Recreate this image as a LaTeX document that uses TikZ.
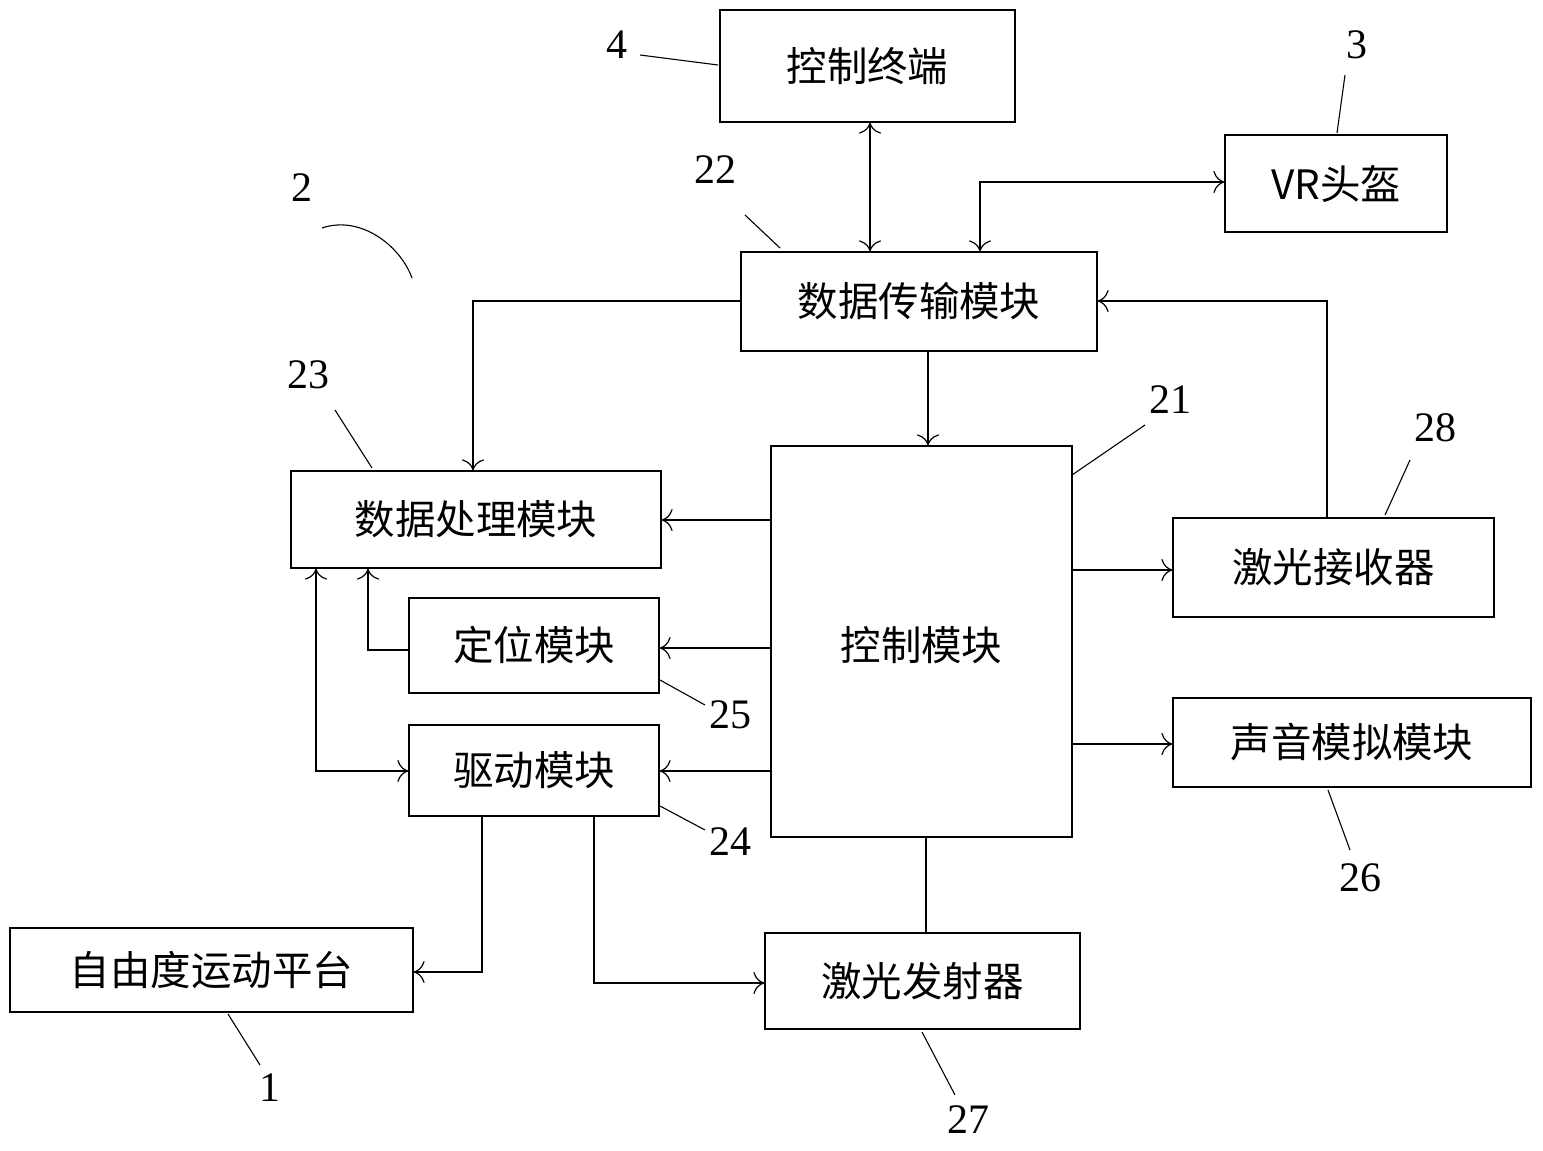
\documentclass[tikz,border=0pt]{standalone}
\usepackage{fontspec}
\setmainfont{Liberation Serif}
\newfontfamily\cjk{Noto Sans CJK SC}[Scale=0.92]
\usetikzlibrary{arrows.meta}
\begin{document}
\begin{tikzpicture}[x=1pt,y=-1pt,
  box/.style={draw,line width=1.2pt,inner sep=0pt,font=\cjk\fontsize{44}{48}\selectfont},
  num/.style={font=\fontsize{42}{46}\selectfont,inner sep=0pt},
  lab/.style={line width=1.1pt},
  con/.style={line width=1.2pt},
  ar/.style={con,-{To[length=11pt,width=22pt,line width=1.2pt]}},
  dar/.style={con,{To[length=11pt,width=22pt,line width=1.2pt]}-{To[length=11pt,width=22pt,line width=1.2pt]}}]
\useasboundingbox (0,0) rectangle (1543,1151);
\newcommand{\bx}[6]{\node[box,minimum width=#4-#2,minimum height=#5-#3] (#1) at ({(#2+#4)/2},{(#3+#5)/2}) {#6};}
\bx{term}{720}{10}{1015}{122}{控制终端}
\bx{vr}{1225}{135}{1447}{232}{VR\cjk 头盔}
\bx{dt}{741}{252}{1097}{351}{数据传输模块}
\bx{dp}{291}{471}{661}{568}{数据处理模块}
\node[draw,line width=1.2pt,minimum width=301,minimum height=391,inner sep=0pt] (ctl) at (921.5,641.5) {};
\node[font=\cjk\fontsize{44}{48}\selectfont] (ctlt) at (921.5,645) {控制模块};
\bx{rx}{1173}{518}{1494}{617}{激光接收器}
\bx{pos}{409}{598}{659}{693}{定位模块}
\bx{drv}{409}{725}{659}{816}{驱动模块}
\bx{snd}{1173}{698}{1531}{787}{声音模拟模块}
\bx{plat}{10}{928}{413}{1012}{自由度运动平台}
\bx{tx}{765}{933}{1080}{1029}{激光发射器}
% connectors
\draw[dar] (term.south -| 870,0) -- (dt.north -| 870,0);
\coordinate (c1) at (980,182);
\draw[dar] (vr.west |- c1) -| (dt.north -| c1);
\coordinate (c2) at (473,301);
\draw[ar] (dt.west |- c2) -| (dp.north -| c2);
\draw[ar] (dt.south -| 928,0) -- (ctl.north -| 928,0);
\coordinate (c3) at (1327,301);
\draw[ar] (rx.north -| c3) |- (dt.east |- c3);
\draw[ar] (ctl.west |- 0,520) -- (dp.east |- 0,520);
\draw[ar] (ctl.west |- 0,648) -- (pos.east |- 0,648);
\draw[ar] (ctl.west |- 0,771) -- (drv.east |- 0,771);
\draw[ar] (ctl.east |- 0,570) -- (rx.west |- 0,570);
\draw[ar] (ctl.east |- 0,744) -- (snd.west |- 0,744);
\draw[con] (ctl.south -| 926,0) -- (tx.north -| 926,0);
\coordinate (c4) at (368,650);
\draw[ar] (pos.west |- c4) -| (dp.south -| c4);
\coordinate (c5) at (316,771);
\draw[dar] (drv.west |- c5) -| (dp.south -| c5);
\coordinate (c6) at (482,972);
\draw[ar] (drv.south -| c6) |- (plat.east |- c6);
\coordinate (c7) at (594,983);
\draw[ar] (drv.south -| c7) |- (tx.west |- c7);
% labels
\node[num] (n4) at (617,45) {4}; \draw[lab] (640,55) -- (718,65);
\node[num] (n3) at (1357,45) {3}; \draw[lab] (1345,75) -- (1337,133);
\node[num] (n22) at (715,170) {22}; \draw[lab] (745,215) -- (780,248);
\node[num] (n2) at (302,188) {2}; \draw[lab] (322,228) .. controls (360,215) and (400,245) .. (412,278);
\node[num] (n23) at (308,375) {23}; \draw[lab] (335,410) -- (372,468);
\node[num] (n21) at (1170,400) {21}; \draw[lab] (1145,425) -- (1072,475);
\node[num] (n28) at (1435,428) {28}; \draw[lab] (1410,460) -- (1385,515);
\node[num] (n25) at (730,715) {25}; \draw[lab] (660,680) -- (705,705);
\node[num] (n24) at (730,842) {24}; \draw[lab] (660,806) -- (705,830);
\node[num] (n26) at (1360,878) {26}; \draw[lab] (1328,790) -- (1350,850);
\node[num] (n27) at (968,1120) {27}; \draw[lab] (922,1032) -- (955,1095);
\node[num] (n1) at (270,1088) {1}; \draw[lab] (228,1014) -- (260,1065);
\end{tikzpicture}
\end{document}
